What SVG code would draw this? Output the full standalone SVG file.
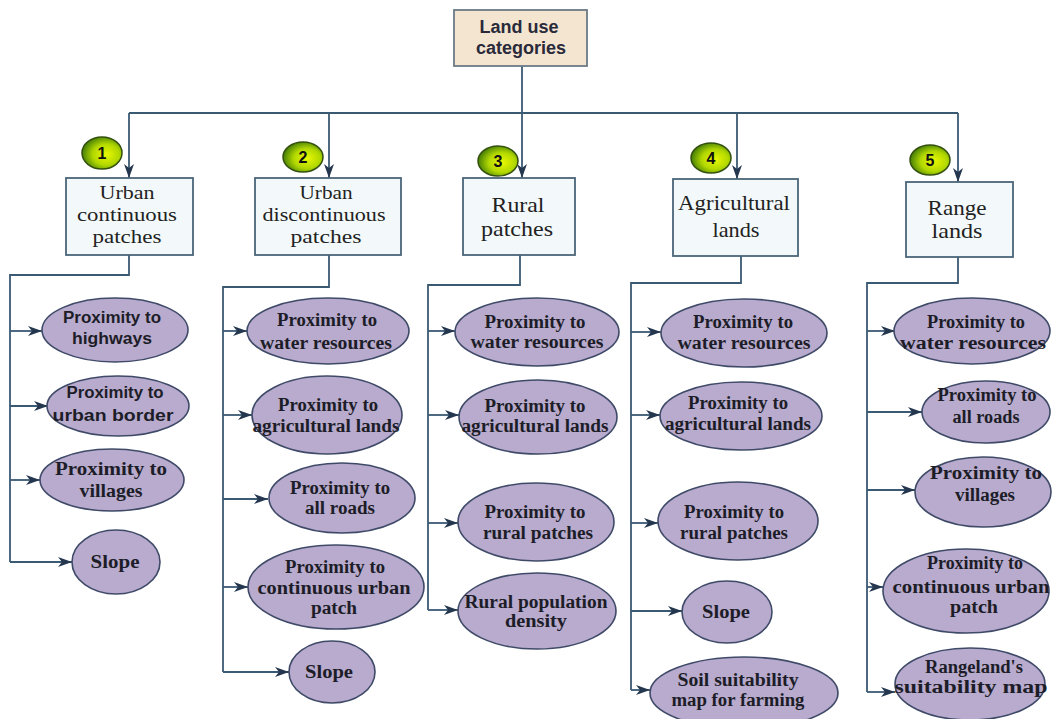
<svg xmlns="http://www.w3.org/2000/svg" width="1053" height="719" viewBox="0 0 1053 719">
<style>
.ln{fill:none;stroke:#3a5a74;stroke-width:1.8}
.arr{marker-end:url(#ah)}
.box{fill:#f3f9fa;stroke:#4a6579;stroke-width:1.8}
.top{fill:#f4e5d1;stroke:#6b7a88;stroke-width:1.8}
.ell{fill:#b8abcd;stroke:#3f4a68;stroke-width:1.6}
.bt{font-family:"Liberation Serif",serif;font-size:21px;fill:#222;text-anchor:middle}
.bt3{font-family:"Liberation Serif",serif;font-size:18.5px;fill:#222;text-anchor:middle}
.et{font-family:"Liberation Serif",serif;font-size:18.5px;font-weight:bold;fill:#1d1d28;text-anchor:middle}
.st{font-family:"Liberation Sans",sans-serif;font-size:16px;font-weight:bold;fill:#1d1d28;text-anchor:middle}
.tt{font-family:"Liberation Sans",sans-serif;font-size:18px;font-weight:bold;fill:#2a2a3a;text-anchor:middle}
.num{fill:url(#gg);stroke:#34500e;stroke-width:1.5}
.nt{font-family:"Liberation Sans",sans-serif;font-size:16px;font-weight:bold;fill:#111;text-anchor:middle}
</style>
<defs>
<marker id="ah" markerUnits="userSpaceOnUse" markerWidth="16" markerHeight="12" refX="14" refY="5" orient="auto">
<path d="M0,0 L14,5 L0,10 L4,5 Z" fill="#24374f"/>
</marker>
<radialGradient id="gg" cx="0.6" cy="0.55" r="0.6">
<stop offset="0" stop-color="#eaf800"/>
<stop offset="0.55" stop-color="#b2d800"/>
<stop offset="1" stop-color="#467f06"/>
</radialGradient>
</defs>
<rect width="1053" height="719" fill="#ffffff"/>

<g id="connectors">
<path class="ln" d="M522,66 V113"/>
<path class="ln" d="M129,113 H958"/>
<path class="ln arr" d="M129,113 V178"/>
<path class="ln arr" d="M329,113 V178"/>
<path class="ln arr" d="M522,113 V178"/>
<path class="ln arr" d="M737,113 V179"/>
<path class="ln arr" d="M958,113 V182"/>
<path class="ln" d="M129,255 V275 H10 V562"/>
<path class="ln arr" d="M10,331 H42"/>
<path class="ln arr" d="M10,406 H48"/>
<path class="ln arr" d="M10,480 H40"/>
<path class="ln arr" d="M10,562 H72"/>
<path class="ln" d="M329,255 V287 H223 V672"/>
<path class="ln arr" d="M223,331 H247"/>
<path class="ln arr" d="M223,415 H252"/>
<path class="ln arr" d="M223,499 H268"/>
<path class="ln arr" d="M223,587 H248"/>
<path class="ln arr" d="M223,672 H289"/>
<path class="ln" d="M520,255 V285 H428 V610"/>
<path class="ln arr" d="M428,331 H455"/>
<path class="ln arr" d="M428,415 H459"/>
<path class="ln arr" d="M428,523 H458"/>
<path class="ln arr" d="M428,610 H458"/>
<path class="ln" d="M741,256 V283 H631 V690"/>
<path class="ln arr" d="M631,332 H661"/>
<path class="ln arr" d="M631,415 H660"/>
<path class="ln arr" d="M631,523 H658"/>
<path class="ln arr" d="M631,611 H682"/>
<path class="ln arr" d="M631,690 H650"/>
<path class="ln" d="M958,257 V283 H867 V692"/>
<path class="ln arr" d="M867,331 H895"/>
<path class="ln arr" d="M867,412 H922"/>
<path class="ln arr" d="M867,490 H915"/>
<path class="ln arr" d="M867,587 H883"/>
<path class="ln arr" d="M867,692 H895"/>
</g>

<g id="root">
<rect class="top" x="454" y="10" width="133" height="56"/>
<text class="tt" x="519" y="33">Land use</text>
<text class="tt" x="521" y="54">categories</text>
</g>

<g id="cat1">
<rect class="box" x="66" y="178" width="127" height="77"/>
<text class="bt3" x="127" y="199" textLength="55" lengthAdjust="spacingAndGlyphs">Urban</text>
<text class="bt3" x="127" y="221" textLength="100" lengthAdjust="spacingAndGlyphs">continuous</text>
<text class="bt3" x="127" y="243" textLength="69" lengthAdjust="spacingAndGlyphs">patches</text>
</g>
<g id="n1"><ellipse class="num" cx="102" cy="153" rx="20" ry="16"/><text class="nt" x="102" y="159">1</text></g>

<g id="cat2">
<rect class="box" x="255" y="178" width="146" height="77"/>
<text class="bt3" x="326" y="199" textLength="53" lengthAdjust="spacingAndGlyphs">Urban</text>
<text class="bt3" x="324" y="221" textLength="123" lengthAdjust="spacingAndGlyphs">discontinuous</text>
<text class="bt3" x="326" y="243" textLength="71" lengthAdjust="spacingAndGlyphs">patches</text>
</g>
<g id="n2"><ellipse class="num" cx="303" cy="157" rx="20" ry="15"/><text class="nt" x="303" y="163">2</text></g>

<g id="cat3">
<rect class="box" x="463" y="178" width="112" height="77"/>
<text class="bt" x="518" y="212" textLength="53" lengthAdjust="spacingAndGlyphs">Rural</text>
<text class="bt" x="517" y="236" textLength="72" lengthAdjust="spacingAndGlyphs">patches</text>
</g>
<g id="n3"><ellipse class="num" cx="498" cy="161" rx="20" ry="15"/><text class="nt" x="498" y="167">3</text></g>

<g id="cat4">
<rect class="box" x="673" y="179" width="125" height="77"/>
<text class="bt" x="734" y="210" textLength="112" lengthAdjust="spacingAndGlyphs">Agricultural</text>
<text class="bt" x="736" y="237" textLength="47" lengthAdjust="spacingAndGlyphs">lands</text>
</g>
<g id="n4"><ellipse class="num" cx="711" cy="158" rx="20" ry="15"/><text class="nt" x="711" y="164">4</text></g>

<g id="cat5">
<rect class="box" x="906" y="182" width="107" height="75"/>
<text class="bt" x="957" y="215" textLength="59" lengthAdjust="spacingAndGlyphs">Range</text>
<text class="bt" x="957" y="238" textLength="51" lengthAdjust="spacingAndGlyphs">lands</text>
</g>
<g id="n5"><ellipse class="num" cx="930" cy="160" rx="20" ry="15"/><text class="nt" x="930" y="166">5</text></g>

<g id="a1"><ellipse class="ell" cx="115" cy="330" rx="73" ry="32"/>
<text class="st" x="112" y="323" textLength="98" lengthAdjust="spacingAndGlyphs">Proximity to</text>
<text class="st" x="112" y="344" textLength="80" lengthAdjust="spacingAndGlyphs">highways</text></g>
<g id="a2"><ellipse class="ell" cx="118" cy="406" rx="71" ry="30"/>
<text class="st" x="115" y="398" textLength="97" lengthAdjust="spacingAndGlyphs">Proximity to</text>
<text class="st" x="113" y="421" textLength="121" lengthAdjust="spacingAndGlyphs">urban border</text></g>
<g id="a3"><ellipse class="ell" cx="112" cy="480" rx="72" ry="31"/>
<text class="et" x="111" y="475" textLength="112" lengthAdjust="spacingAndGlyphs">Proximity to</text>
<text class="et" x="111" y="497" textLength="63" lengthAdjust="spacingAndGlyphs">villages</text></g>
<g id="a4"><ellipse class="ell" cx="116" cy="562" rx="44" ry="32"/>
<text class="et" x="115" y="568" textLength="49" lengthAdjust="spacingAndGlyphs">Slope</text></g>

<g id="b1"><ellipse class="ell" cx="328" cy="331" rx="81" ry="33"/>
<text class="et" x="327" y="326" textLength="100" lengthAdjust="spacingAndGlyphs">Proximity to</text>
<text class="et" x="326" y="349" textLength="132" lengthAdjust="spacingAndGlyphs">water resources</text></g>
<g id="b2"><ellipse class="ell" cx="327" cy="415" rx="75" ry="39"/>
<text class="et" x="328" y="411" textLength="100" lengthAdjust="spacingAndGlyphs">Proximity to</text>
<text class="et" x="326" y="432" textLength="147" lengthAdjust="spacingAndGlyphs">agricultural lands</text></g>
<g id="b3"><ellipse class="ell" cx="342" cy="498" rx="73" ry="35"/>
<text class="et" x="340" y="494" textLength="100" lengthAdjust="spacingAndGlyphs">Proximity to</text>
<text class="et" x="340" y="514" textLength="70" lengthAdjust="spacingAndGlyphs">all roads</text></g>
<g id="b4"><ellipse class="ell" cx="336" cy="587" rx="88" ry="42"/>
<text class="et" x="335" y="573" textLength="100" lengthAdjust="spacingAndGlyphs">Proximity to</text>
<text class="et" x="334" y="594" textLength="153" lengthAdjust="spacingAndGlyphs">continuous urban</text>
<text class="et" x="334" y="614" textLength="46" lengthAdjust="spacingAndGlyphs">patch</text></g>
<g id="b5"><ellipse class="ell" cx="332" cy="672" rx="43" ry="31"/>
<text class="et" x="329" y="678" textLength="48" lengthAdjust="spacingAndGlyphs">Slope</text></g>

<g id="c1"><ellipse class="ell" cx="537" cy="332" rx="82" ry="34"/>
<text class="et" x="535" y="328" textLength="101" lengthAdjust="spacingAndGlyphs">Proximity to</text>
<text class="et" x="537" y="348" textLength="133" lengthAdjust="spacingAndGlyphs">water resources</text></g>
<g id="c2"><ellipse class="ell" cx="538" cy="417" rx="79" ry="37"/>
<text class="et" x="535" y="412" textLength="101" lengthAdjust="spacingAndGlyphs">Proximity to</text>
<text class="et" x="535" y="432" textLength="147" lengthAdjust="spacingAndGlyphs">agricultural lands</text></g>
<g id="c3"><ellipse class="ell" cx="536" cy="522" rx="78" ry="39"/>
<text class="et" x="535" y="518" textLength="101" lengthAdjust="spacingAndGlyphs">Proximity to</text>
<text class="et" x="538" y="539" textLength="110" lengthAdjust="spacingAndGlyphs">rural patches</text></g>
<g id="c4"><ellipse class="ell" cx="537" cy="611" rx="79" ry="38"/>
<text class="et" x="536" y="608" textLength="143" lengthAdjust="spacingAndGlyphs">Rural population</text>
<text class="et" x="536" y="627" textLength="62" lengthAdjust="spacingAndGlyphs">density</text></g>

<g id="d1"><ellipse class="ell" cx="744" cy="333" rx="83" ry="34"/>
<text class="et" x="743" y="328" textLength="100" lengthAdjust="spacingAndGlyphs">Proximity to</text>
<text class="et" x="744" y="349" textLength="133" lengthAdjust="spacingAndGlyphs">water resources</text></g>
<g id="d2"><ellipse class="ell" cx="741" cy="416" rx="81" ry="34"/>
<text class="et" x="738" y="409" textLength="100" lengthAdjust="spacingAndGlyphs">Proximity to</text>
<text class="et" x="738" y="430" textLength="146" lengthAdjust="spacingAndGlyphs">agricultural lands</text></g>
<g id="d3"><ellipse class="ell" cx="738" cy="521" rx="80" ry="39"/>
<text class="et" x="734" y="518" textLength="100" lengthAdjust="spacingAndGlyphs">Proximity to</text>
<text class="et" x="734" y="539" textLength="108" lengthAdjust="spacingAndGlyphs">rural patches</text></g>
<g id="d4"><ellipse class="ell" cx="727" cy="612" rx="45" ry="31"/>
<text class="et" x="726" y="618" textLength="48" lengthAdjust="spacingAndGlyphs">Slope</text></g>
<g id="d5"><ellipse class="ell" cx="744" cy="693" rx="94" ry="36"/>
<text class="et" x="738" y="686" textLength="121" lengthAdjust="spacingAndGlyphs">Soil suitability</text>
<text class="et" x="738" y="706" textLength="133" lengthAdjust="spacingAndGlyphs">map for farming</text></g>

<g id="e1"><ellipse class="ell" cx="972" cy="331" rx="78" ry="33"/>
<text class="et" x="976" y="328" textLength="98" lengthAdjust="spacingAndGlyphs">Proximity to</text>
<text class="et" x="973" y="349" textLength="146" lengthAdjust="spacingAndGlyphs">water resources</text></g>
<g id="e2"><ellipse class="ell" cx="986" cy="412" rx="64" ry="31"/>
<text class="et" x="987" y="401" textLength="99" lengthAdjust="spacingAndGlyphs">Proximity to</text>
<text class="et" x="986" y="423" textLength="67" lengthAdjust="spacingAndGlyphs">all roads</text></g>
<g id="e3"><ellipse class="ell" cx="983" cy="492" rx="68" ry="35"/>
<text class="et" x="986" y="479" textLength="112" lengthAdjust="spacingAndGlyphs">Proximity to</text>
<text class="et" x="985" y="501" textLength="60" lengthAdjust="spacingAndGlyphs">villages</text></g>
<g id="e4"><ellipse class="ell" cx="966" cy="591" rx="83" ry="42"/>
<text class="et" x="975" y="569" textLength="96" lengthAdjust="spacingAndGlyphs">Proximity to</text>
<text class="et" x="971" y="593" textLength="157" lengthAdjust="spacingAndGlyphs">continuous urban</text>
<text class="et" x="974" y="613" textLength="48" lengthAdjust="spacingAndGlyphs">patch</text></g>
<g id="e5"><ellipse class="ell" cx="970" cy="684" rx="75" ry="36"/>
<text class="et" x="974" y="673" textLength="98" lengthAdjust="spacingAndGlyphs">Rangeland's</text>
<text class="et" x="971" y="693" textLength="153" lengthAdjust="spacingAndGlyphs">suitability map</text></g>
</svg>
